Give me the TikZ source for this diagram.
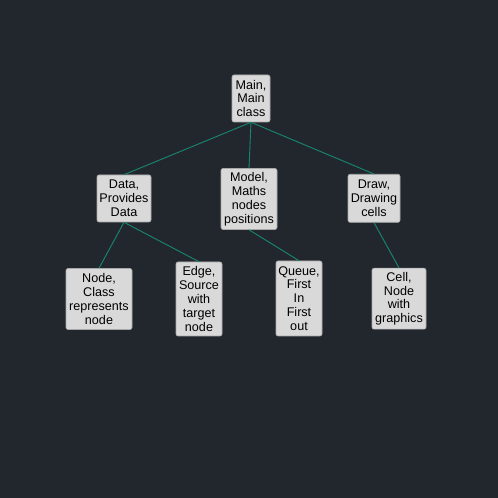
\documentclass[tikz,border=0pt]{standalone}
\usepackage{fontspec}
\setmainfont{Liberation Sans}
\definecolor{bg}{HTML}{22272E}
\definecolor{boxfill}{HTML}{D9D9D9}
\definecolor{boxline}{HTML}{A8A8A8}
\definecolor{link}{HTML}{17886F}
\begin{document}
\begin{tikzpicture}[x=1pt,y=1pt,
  box/.style={draw=boxline, fill=boxfill, rounded corners=2pt, line width=0.6pt,
    align=center, inner sep=0pt, font=\fontsize{12.6}{13.9}\selectfont, text=black},
  conn/.style={draw=link, line width=0.9pt}]
\fill[bg] (0,0) rectangle (498,498);
\useasboundingbox (0,0) rectangle (498,498);
\node[box, minimum width=38pt, minimum height=47pt] (main) at (251,399.5) {Main,\\Main\\class};
\node[box, minimum width=54pt, minimum height=47pt] (data) at (124,299.5) {Data,\\Provides\\Data};
\node[box, minimum width=56pt, minimum height=61pt] (model) at (249,299) {Model,\\Maths\\nodes\\positions};
\node[box, minimum width=52pt, minimum height=48pt] (drawn) at (374,299.7) {Draw,\\Drawing\\cells};
\node[box, minimum width=66pt, minimum height=61pt] (nodec) at (99,199) {Node,\\Class\\represents\\node};
\node[box, minimum width=46pt, minimum height=74pt] (edge) at (199,199) {Edge,\\Source\\with\\target\\node};
\node[box, minimum width=46pt, minimum height=75pt] (queue) at (299,199.5) {Queue,\\First\\In\\First\\out};
\node[box, minimum width=54pt, minimum height=61pt] (cell) at (399,199.3) {Cell,\\Node\\with\\graphics};
\draw[conn] (main.south) -- (data.north);
\draw[conn] (main.south) -- (model.north);
\draw[conn] (main.south) -- (drawn.north);
\draw[conn] (data.south) -- (nodec.north);
\draw[conn] (data.south) -- (edge.north);
\draw[conn] (model.south) -- (queue.north);
\draw[conn] (drawn.south) -- (cell.north);
\end{tikzpicture}
\end{document}
